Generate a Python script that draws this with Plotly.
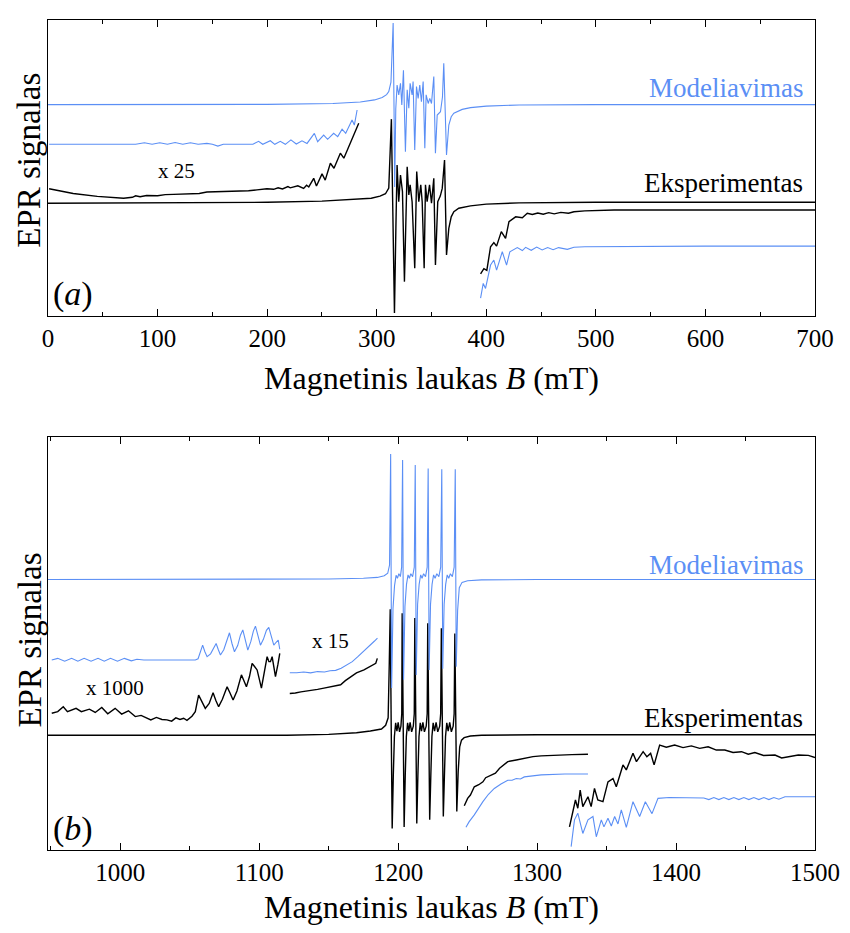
import plotly.graph_objects as go

BLUE = "#5B8FF5"
BLACK = "#000000"
FONT = "Liberation Serif"

# ---------------- Panel (a): B in mT, signal in arbitrary units (0..100) ----------------
a_sim = [(0,71.4),(100,71.4),(200,71.5),(260,71.8),(285,72.3),(298,73.0),(305,73.8),(309,74.8),(311,75.8),
         (313.0,79.0),(314.2,90),(315.0,99.0),(315.8,70),(316.4,43.6),(317.4,70),(318.6,78.0),(320.1,74.7),
         (321.7,78.6),(322.9,71.3),(324.4,83.0),(326.2,55.5),(327.8,76.4),(329.3,70.2),(330.5,78.6),(332.3,74.7),
         (333.2,79.2),(334.7,56.1),(336.3,77.5),(337.8,73.5),(339.3,78.0),(340.8,72.4),(342.4,79.2),(343.9,56.7),
         (345.1,74.7),(347.0,71.8),(348.4,73.5),(350.0,71.8),(352.1,80.9),(353.6,55.0),(355.2,67.9),(358.2,69.0),
         (360.0,74),(361.2,85.4),(362.2,70),(363.7,54.4),(365.8,64.5),(368,67.3),(370.4,68.5),(378.0,69.8),
         (385.6,70.4),(400,70.9),(430,71.3),(500,71.4),(700,71.4)]

a_exp = [(0,38.1),(100,38.2),(200,38.4),(250,38.8),(280,39.3),(295,39.8),(303,40.5),(308,41.3),(311,43.2),
         (312.5,55),(313.4,66.5),(314.5,40),(316.2,1.0),(317.5,30),(318.6,51.0),(320.1,38.6),(321.7,47.6),
         (323.5,42.0),(325.3,11.6),(327.8,50.4),(329.3,40.9),(330.5,44.3),(332.3,38.6),(334.7,16.1),(336.5,48.8),
         (338.4,38.6),(340.2,44.3),(341.5,38.6),(343.3,16.1),(344.5,44.3),(346.0,38.6),(348.2,44.3),(350.0,38.1),
         (352.1,46.5),(353.6,17.2),(355.7,38.6),(358,40.5),(359.8,43.1),(361.9,52.7),(363.7,20.6),(365.8,29.6),
         (368,33.5),(370.4,35.2),(374.9,36.4),(385.6,37.2),(400,37.8),(430,38.2),(500,38.4),(600,38.4),(700,38.4)]

a_sim_x25 = [(1,58.0),(20,58.0),(40,58.0),(60,58.0),(80,58.0),(88,58.5),(95,58.0),(102,58.5),(109,58.0),
             (116,58.6),(123,58.0),(130,58.5),(137,58.0),(145,58.3),(150,58.0),(155,57.4),(160,58.0),(175,58.0),
             (187,58.0),(192.2,59.0),(196,58.0),(202.9,59.2),(207,58.0),(212,59.0),(216.6,58.0),(221.7,59.5),
             (226.6,58.1),(231.8,59.2),(236.4,58.3),(243.1,61.7),(246.1,58.9),(251.6,61.1),(255.2,59.7),
             (260.7,61.7),(264.4,60.6),(268.4,63.1),(271.7,61.7),(277.5,66.2),(279.6,64.5),(282.1,69.6)]

a_exp_x25 = [(1,43.0),(10,42.4),(23,41.4),(45,40.4),(69,39.8),(77,40.1),(80,40.6),(84,40.3),(90,40.7),
             (100,40.6),(107,41.0),(114.5,41.1),(122,41.2),(130,41.5),(138,41.4),(145,41.9),(160,42.0),
             (175.5,42.0),(183,42.3),(190.7,42.6),(199.8,43.0),(205.9,42.8),(210,43.3),(214,42.9),(219,43.7),
             (221.1,43.3),(228,44.0),(233.3,43.1),(236,44.2),(238,43.6),(242.5,46.5),(245,43.9),(250.1,48.0),
             (253,45.9),(257.7,51.6),(261,49.9),(266.8,55.0),(270,53.3),(276,58.3),(280.5,62.3),(283.6,65.1)]

a_exp_x25_right = [(394.8,14.2),(397.8,16.0),(400.5,15.4),(403.9,23.4),(406.9,24.8),(409.4,23.6),(413.7,28.5),
                   (417.6,26.2),(420.7,31.9),(426.8,33.5),(432.9,33.2),(437.4,34.7),(442,34.3),(447,34.8),
                   (452,34.4),(457,34.9),(462,34.5),(468,35.0),(475,34.7),(480,35.2),(490,35.5),(516.6,35.8),
                   (600,35.8),(700,35.8)]

a_sim_x25_right = [(394.8,6.0),(397.2,11.0),(399.3,9.3),(403.9,17.2),(406.9,18.9),(409.4,15.5),(414.6,21.7),
                   (418.5,17.2),(421.5,21.7),(428.3,23.1),(432.9,22.1),(435.9,23.2),(441,22.2),(446,23.3),
                   (451,22.3),(456,23.1),(461,22.4),(466,23.1),(474,22.5),(480,23.2),(490,23.4),(520,23.5),
                   (600,23.6),(700,23.6)]

# ---------------- Panel (b) ----------------
b_sim = [(948,65.5),(1000,65.5),(1100,65.5),(1150,65.6),(1175,65.8),(1185,66.0),(1190,66.4),(1192.5,67.0),
         (1193.8,69.0),(1194.6,95.9),(1195.3,39.2),(1196.3,58.5),(1197.4,64.0),(1198.5,66.5),(1199.5,65.8),
         (1200.5,66.9),(1201.6,66.2),(1202.5,68.5),(1203.2,94.4),(1203.9,41.2),(1204.9,59.0),(1206.0,64.3),
         (1207.1,66.6),(1208.1,65.8),(1209.1,66.9),(1210.4,66.2),(1211.6,68.5),(1212.3,93.2),(1213.0,42.4),
         (1214.0,59.5),(1215.1,64.3),(1216.2,66.6),(1217.2,65.8),(1218.3,66.9),(1219.7,66.2),(1220.9,68.5),
         (1221.6,92.4),(1222.3,43.6),(1223.3,59.5),(1224.4,64.3),(1225.5,66.6),(1226.6,65.8),(1227.8,66.9),
         (1229.3,66.2),(1230.6,68.5),(1231.4,92.2),(1232.1,43.9),(1233.1,59.5),(1234.2,64.3),(1235.3,66.6),
         (1236.4,65.8),(1237.6,66.9),(1239.0,66.2),(1240.3,68.5),(1241.1,92.2),(1241.8,44.4),(1242.8,58.0),
         (1244.0,63.5),(1246.0,64.8),(1250,65.2),(1260,65.4),(1300,65.5),(1400,65.5),(1500,65.5)]

b_exp = [(948,27.8),(1050,27.8),(1120,27.8),(1150,28.0),(1170,28.4),(1180,28.8),(1188,29.3),(1191,30.2),
         (1192.8,32),(1193.6,45),(1194.3,58.3),(1195.0,30),(1195.7,5.2),(1196.5,18),(1197.3,27.5),(1198.2,30.8),
         (1199.1,28.8),(1200.0,30.9),(1201.0,28.6),(1202.0,30.0),(1202.6,33),
         (1202.9,57.3),(1203.6,30),(1204.3,5.6),(1205.1,18),(1205.9,27.5),(1206.8,30.8),(1207.7,28.8),
         (1208.6,30.9),(1209.7,28.6),(1210.9,30.0),(1211.6,33),
         (1212.0,56.2),(1212.7,30),(1213.4,6.4),(1214.2,18),(1215.0,27.5),(1215.9,30.8),(1216.8,28.8),
         (1217.8,30.9),(1218.9,28.6),(1220.2,30.0),(1220.9,33),
         (1221.3,54.9),(1222.0,30),(1222.7,7.3),(1223.5,18),(1224.3,27.5),(1225.2,30.8),(1226.2,28.8),
         (1227.3,30.9),(1228.5,28.6),(1229.9,30.0),(1230.6,33),
         (1231.1,53.7),(1231.8,30),(1232.5,8.1),(1233.3,18),(1234.1,27.5),(1235.0,30.8),(1236.0,28.8),
         (1237.1,30.9),(1238.3,28.6),(1239.6,30.0),(1240.3,33),
         (1240.8,52.4),(1241.5,30),(1242.2,9.3),(1243.2,19),(1244.3,25.0),(1245.6,26.6),(1247.5,27.2),
         (1252,27.6),(1260,27.8),(1300,27.9),(1400,27.9),(1500,27.9)]

b_exp_x1000 = [(950.7,33.1),(955,33.5),(959,34.7),(962,33.5),(968.2,34.3),(972,33.5),(977.8,34.1),(982,33.3),
               (986.7,34.5),(991,33.0),(996.3,34.3),(1001,32.9),(1005.9,33.7),(1010.8,32.3),(1015,32.6),
               (1019.2,31.9),(1022,31.5),(1026,32.1),(1030,31.6),(1033.6,31.5),(1037,31.2),(1040,32.0),
               (1043,31.6),(1045.6,31.9),(1048,31.4),(1051.6,32.4),(1054,33.5),(1056.4,37.5),(1058.5,36),
               (1061.2,34.3),(1064,35.5),(1066.8,38.1),(1068.8,36.2),(1070.8,34.7),(1073.5,36.5),(1076.9,39.5),
               (1079,38),(1081.2,36.3),(1084,38.5),(1087.2,42.4),(1089,41),(1090.8,39.5),(1093,42),(1094.9,45.2),
               (1096.5,44.5),(1098.5,43.6),(1101.6,39.2),(1103.5,43),(1105.7,46.8),(1107,45.6),(1108.1,45.6),
               (1109.3,46.8),(1111.7,42.0),(1113.5,45),(1114.8,47.6)]

b_sim_x1000 = [(950.7,46.0),(955,46.4),(960,45.7),(965,46.4),(969.5,45.7),(974,46.4),(979,45.7),(984,46.4),
               (988.5,45.7),(993,46.4),(998,45.7),(1003,46.4),(1008,45.8),(1012,46.2),(1017,46.0),(1030,46.0),
               (1045,46.0),(1054,46.0),(1056,46.3),(1057.7,47.8),(1059.3,49.6),(1060.9,48.0),(1062.5,46.8),
               (1065,47.5),(1067.3,49.0),(1069,50.0),(1070.6,48.5),(1072.1,47.2),(1074.5,48.5),(1076.8,51.0),
               (1078.6,52.6),(1080.4,50.0),(1082.2,48.0),(1084.5,49.5),(1086.5,52.0),(1088.2,53.3),(1090,51.0),
               (1091.8,48.4),(1094,50.5),(1095.8,53.0),(1097.3,54.2),(1099,52.0),(1100.9,49.6),(1103,51.0),
               (1105.2,53.2),(1106.9,53.9),(1108.7,52.0),(1110.5,49.6),(1112.2,50.3),(1113.7,50.8),(1114.8,48.6)]

b_sim_x15_left = [(1122,42.9),(1127,42.9),(1132,43.1),(1137,42.9),(1142,43.2),(1147,43.1),(1151,43.4),
                  (1155,43.5),(1159,44.0),(1163,44.7),(1167,45.6),(1171,46.8),(1175,48.0),(1179,49.3),
                  (1183,50.6),(1185.1,51.3)]

b_exp_x15_left = [(1122,37.9),(1126,38.0),(1130,38.3),(1137,38.6),(1142,38.9),(1146.6,39.2),(1152,39.6),
                  (1158.6,40.0),(1162,41.0),(1165.8,42.0),(1170,42.9),(1175.4,43.6),(1180,44.4),(1183.9,45.2),
                  (1185,46.4)]

b_exp_x15_right = [(1247.6,10.7),(1250,12.5),(1252,13.3),(1254.8,15.3),(1258,15.8),(1261,16.5),(1263,17.5),
                   (1266.8,18.2),(1270,18.6),(1273,19.8),(1278.9,21.4),(1285,21.8),(1290.8,22.2),(1297,22.6),
                   (1302.9,22.8),(1309,22.9),(1314.9,23.1),(1325,23.1),(1336.6,23.2)]

b_sim_x15_right = [(1248.8,5.5),(1251,6.8),(1254.8,8.5),(1258,10.2),(1261,11.7),(1265,13.5),(1269.2,14.9),
                   (1274,16.0),(1276,16.4),(1278.9,16.9),(1282,16.9),(1285,17.3),(1288,17.2),(1290.8,17.7),
                   (1302.9,18.2),(1320,18.4),(1336.6,18.4)]

b_exp_far = [(1323.3,5.6),(1325.7,9.7),(1327.6,12.1),(1329.3,10.1),(1331,14.5),(1332.9,10.5),(1336.6,12.9),
             (1338.9,10.5),(1341.3,14.9),(1343.7,12.1),(1347.4,11.7),(1351,16.5),(1354.6,17.3),(1357,15.3),
             (1361.8,20.6),(1364.2,19.4),(1369,23.4),(1371.5,21.4),(1376.3,23.8),(1379,22.6),(1381.7,23.4),
             (1384.2,20.6),(1388.2,25.4),(1393,24.9),(1399,25.4),(1405,24.8),(1411,25.2),(1417,24.6),
             (1423.1,25.0),(1429,24.2),(1435.1,24.2),(1441,23.6),(1447.1,23.8),(1452,23.2),(1456.7,23.6),
             (1463,22.9),(1471.2,23.0),(1476,22.3),(1480.8,22.6),(1488,23.0),(1495.2,22.9),(1500,22.4)]

b_sim_far = [(1324.5,0.8),(1326.9,7.3),(1329.3,8.9),(1332.9,4.0),(1336.6,7.3),(1340.2,8.1),(1342.6,3.2),
             (1346.2,7.3),(1348.1,5.6),(1351.0,7.7),(1353.4,5.8),(1355.8,8.1),(1358.2,6.3),(1360.6,9.7),
             (1364.2,5.5),(1369.0,11.7),(1373.8,8.1),(1377.9,11.7),(1382.7,8.8),(1387.0,12.5),(1395,12.7),
             (1410,12.7),(1420,12.6),(1423.6,12.2),(1427.2,12.7),(1430.8,12.2),(1434.4,12.7),(1438,12.2),
             (1441.6,12.7),(1445.2,12.2),(1448.8,12.7),(1452.4,12.2),(1456,12.7),(1459.6,12.2),(1463.2,12.7),
             (1466.8,12.2),(1470.4,12.7),(1474,12.3),(1478.4,12.9),(1490,12.9),(1500,12.9)]

fig = go.Figure()


def add(pts, color, width, xa, ya):
    fig.add_trace(go.Scatter(x=[p[0] for p in pts], y=[p[1] for p in pts], mode="lines",
                             line=dict(color=color, width=width), xaxis=xa, yaxis=ya,
                             showlegend=False, hoverinfo="skip"))


for pts in (a_exp, a_exp_x25, a_exp_x25_right):
    add(pts, BLACK, 1.4, "x", "y")
for pts in (a_sim, a_sim_x25, a_sim_x25_right):
    add(pts, BLUE, 1.1, "x", "y")
for pts in (b_exp, b_exp_x1000, b_exp_x15_left, b_exp_x15_right, b_exp_far):
    add(pts, BLACK, 1.4, "x2", "y2")
for pts in (b_sim, b_sim_x1000, b_sim_x15_left, b_sim_x15_right, b_sim_far):
    add(pts, BLUE, 1.1, "x2", "y2")

tickfont = dict(family=FONT, size=25, color="black")
titlefont = dict(family=FONT, size=32, color="black")


def xax(rng, anchor):
    return dict(range=rng, anchor=anchor, domain=[0, 1], showline=True, linecolor="black", linewidth=1.2,
                mirror="ticks", ticks="inside", ticklen=7, tickwidth=1, tickcolor="black",
                dtick=100, tick0=0, showgrid=False, zeroline=False, tickfont=tickfont,
                ticklabelstandoff=0,
                minor=dict(ticks="inside", ticklen=4, dtick=50, tick0=0, tickcolor="black", showgrid=False),
                title=dict(text="Magnetinis laukas <i>B</i> (mT)", font=titlefont, standoff=15),
                automargin=False)


def yax(dom, anchor):
    return dict(range=[0, 100], domain=dom, anchor=anchor, showline=True, linecolor="black", linewidth=1.2,
                mirror=True, ticks="", showticklabels=False, showgrid=False, zeroline=False, automargin=False)


fig.update_layout(
    width=834, height=917, paper_bgcolor="white", plot_bgcolor="white",
    margin=dict(l=40, r=27, t=12, b=75),
    xaxis=xax([0, 700], "y"), yaxis=yax([0.6434, 1.0], "x"),
    xaxis2=xax([948, 1500], "y2"), yaxis2=yax([0.0, 0.4976], "x2"),
)

ann = [
    ("x domain", "y domain", 0.987, 0.77, "Modeliavimas", BLUE, 27, "right"),
    ("x domain", "y domain", 0.987, 0.449, "Eksperimentas", BLACK, 27, "right"),
    ("x domain", "y domain", 0.168, 0.49, "x 25", BLACK, 21, "center"),
    ("x domain", "y domain", 0.032, 0.075, "(<i>a</i>)", BLACK, 34, "center"),
    ("x2 domain", "y2 domain", 0.987, 0.69, "Modeliavimas", BLUE, 27, "right"),
    ("x2 domain", "y2 domain", 0.987, 0.32, "Eksperimentas", BLACK, 27, "right"),
    ("x2 domain", "y2 domain", 0.087, 0.392, "x 1000", BLACK, 21, "center"),
    ("x2 domain", "y2 domain", 0.368, 0.506, "x 15", BLACK, 21, "center"),
    ("x2 domain", "y2 domain", 0.032, 0.052, "(<i>b</i>)", BLACK, 34, "center"),
]
for xr, yr, x, y, t, c, s, xa in ann:
    fig.add_annotation(xref=xr, yref=yr, x=x, y=y, text=t, showarrow=False, xanchor=xa, yanchor="middle",
                       font=dict(family=FONT, size=s, color=c))

for yc in (0.831, 0.253):
    fig.add_annotation(xref="paper", yref="paper", x=-0.024, y=yc, text="EPR signalas", showarrow=False,
                       textangle=-90, xanchor="center", yanchor="middle",
                       font=dict(family=FONT, size=33, color="black"))

fig.write_html("out.html")
